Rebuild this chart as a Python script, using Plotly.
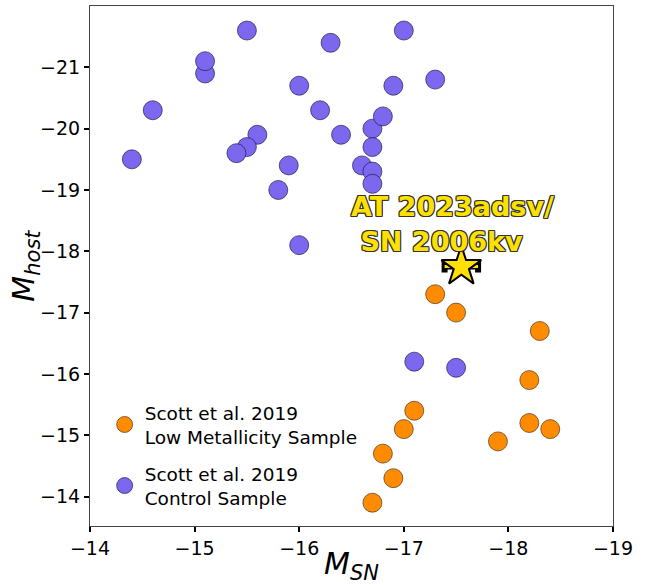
import plotly.graph_objects as go

# Control sample (purple)
control_msn = [-14.4, -14.6, -15.1, -15.1, -15.5, -15.6, -15.5, -15.4, -15.9, -15.8,
               -16.0, -16.2, -16.3, -16.4, -16.7, -16.7, -16.6, -16.7, -16.7, -16.8,
               -16.9, -17.0, -17.3, -16.0, -17.1, -17.5]
control_mhost = [-19.5, -20.3, -20.9, -21.1, -21.6, -19.9, -19.7, -19.6, -19.4, -19.0,
                 -20.7, -20.3, -21.4, -19.9, -20.0, -19.7, -19.4, -19.3, -19.1, -20.2,
                 -20.7, -21.6, -20.8, -18.1, -16.2, -16.1]

# Low metallicity sample (orange)
lowz_msn = [-17.3, -17.5, -18.3, -18.2, -17.1, -17.0, -18.2, -18.4, -17.9, -16.8, -16.9, -16.7]
lowz_mhost = [-17.3, -17.0, -16.7, -15.9, -15.4, -15.1, -15.2, -15.1, -14.9, -14.7, -14.3, -13.9]

# AT 2023adsv / SN 2006kv
sn_msn = [-17.55]
sn_mhost = [-17.75]
sn_msn_err = [0.16]

x_ticks = [-14, -15, -16, -17, -18, -19]
y_ticks = [-21, -20, -19, -18, -17, -16, -15, -14]

FONT = "DejaVu Sans"
YELLOW = "#FFE100"

fig = go.Figure()

fig.add_trace(go.Scatter(
    x=lowz_msn, y=lowz_mhost, mode="markers",
    name="Scott et al. 2019<br>Low Metallicity Sample", legendgroup="a",
    marker=dict(size=19, color="#FF8C00", line=dict(color="rgba(60,40,20,0.8)", width=0.8)),
))
fig.add_trace(go.Scatter(
    x=control_msn, y=control_mhost, mode="markers",
    name="Scott et al. 2019<br>Control Sample", legendgroup="b",
    marker=dict(size=19, color="#7B68EE", line=dict(color="rgba(20,20,60,0.8)", width=0.8)),
))
# error bar: black outline then yellow core
fig.add_trace(go.Scatter(
    x=sn_msn, y=sn_mhost, mode="markers", showlegend=False,
    marker=dict(size=1, color="rgba(0,0,0,0)"),
    error_x=dict(type="data", array=sn_msn_err, color="black", thickness=6, width=6),
))
fig.add_trace(go.Scatter(
    x=sn_msn, y=sn_mhost, mode="markers", showlegend=False,
    marker=dict(size=1, color="rgba(0,0,0,0)"),
    error_x=dict(type="data", array=sn_msn_err, color=YELLOW, thickness=3, width=0),
))
fig.add_trace(go.Scatter(
    x=sn_msn, y=sn_mhost, mode="markers", showlegend=False,
    marker=dict(symbol="star", size=30, color=YELLOW, line=dict(color="black", width=2)),
))

fig.add_annotation(
    x=-16.48, y=-18.45, xref="x", yref="y", xanchor="left", yanchor="middle",
    text="AT 2023adsv/<br>\u00a0SN 2006kv", showarrow=False, align="left",
    font=dict(family=FONT, size=27, color=YELLOW, weight="bold",
              shadow="-1px -1px 0 #333, 1px -1px 0 #333, -1px 1px 0 #333, 1px 1px 0 #333, 0 1px 0 #333, 0 -1px 0 #333, 1px 0 0 #333, -1px 0 0 #333"),
)

# y-axis title as rotated text placed in the left margin
fig.add_annotation(
    x=-0.125, y=0.5, xref="paper", yref="paper", xanchor="center", yanchor="middle",
    text="<i>M</i><sub><i>host</i></sub>", showarrow=False, textangle=-90,
    font=dict(family=FONT, size=30, color="black"),
)

axis_common = dict(
    showgrid=False, zeroline=False, showline=True, linecolor="#444", linewidth=1,
    mirror=True, ticks="outside", ticklen=5, tickwidth=2, tickcolor="black",
    tickfont=dict(family=FONT, size=19, color="black"), automargin=False,
)

fig.update_xaxes(
    range=[-14, -19], tickvals=x_ticks, **axis_common,
    title=dict(text="<i>M</i><sub><i>SN</i></sub>", font=dict(family=FONT, size=30, color="black"), standoff=0),
)
fig.update_yaxes(
    range=[-13.52, -22], tickvals=y_ticks, **axis_common,
)

fig.update_layout(
    width=647, height=585,
    margin=dict(l=90, r=34, t=6, b=59),
    paper_bgcolor="white", plot_bgcolor="white",
    font=dict(family=FONT, color="black"),
    legend=dict(x=0.028, y=0.254, xanchor="left", yanchor="top",
                bgcolor="rgba(0,0,0,0)", font=dict(family=FONT, size=18.5, color="black"),
                tracegroupgap=10),
)

fig.write_html("out.html")
